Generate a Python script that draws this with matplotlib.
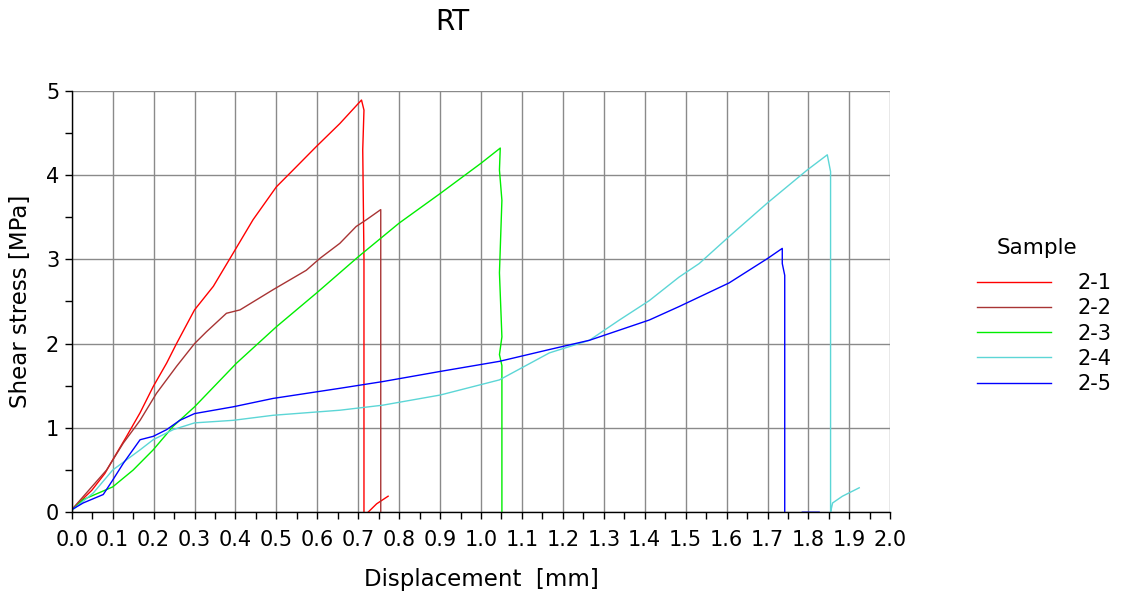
import numpy as np
import matplotlib
matplotlib.use("Agg")
import matplotlib.pyplot as plt

# Образцы и кривые "напряжение сдвига - перемещение"
samples = ["2-1", "2-2", "2-3", "2-4", "2-5"]
colors = ["#ff0000", "#a83434", "#00ee00", "#5cd6d6", "#0000ff"]

x_21 = [0.0, 0.049, 0.081, 0.10, 0.134, 0.167, 0.199, 0.232, 0.256, 0.30, 0.346, 0.394,
        0.443, 0.50, 0.541, 0.598, 0.655, 0.708, 0.714, 0.711, 0.714, 0.714,
        np.nan, 0.724, 0.745, 0.773]
y_21 = [0.03, 0.26, 0.46, 0.62, 0.90, 1.18, 1.49, 1.77, 2.00, 2.40, 2.68, 3.07,
        3.47, 3.86, 4.06, 4.34, 4.61, 4.89, 4.77, 4.30, 3.0, 0.0,
        np.nan, 0.0, 0.10, 0.19]

x_22 = [0.0, 0.028, 0.085, 0.126, 0.167, 0.207, 0.256, 0.30, 0.329, 0.378, 0.411,
        0.492, 0.573, 0.606, 0.655, 0.695, 0.72, 0.755, 0.755]
y_22 = [0.03, 0.185, 0.50, 0.82, 1.09, 1.41, 1.73, 2.00, 2.14, 2.36, 2.40,
        2.64, 2.87, 3.01, 3.19, 3.39, 3.47, 3.59, 0.0]

x_23 = [0.0, 0.028, 0.10, 0.15, 0.199, 0.248, 0.30, 0.403, 0.50, 0.598, 0.70,
        0.80, 0.90, 1.0, 1.047, 1.045, 1.051, 1.045, 1.051, 1.045, 1.051, 1.051]
y_23 = [0.02, 0.15, 0.30, 0.50, 0.74, 1.02, 1.25, 1.77, 2.20, 2.60, 3.03,
        3.43, 3.78, 4.14, 4.32, 4.06, 3.70, 2.84, 2.08, 1.87, 1.74, 0.0]

x_24 = [0.0, 0.053, 0.10, 0.167, 0.199, 0.248, 0.30, 0.394, 0.492, 0.655, 0.76,
        0.90, 1.045, 1.167, 1.265, 1.338, 1.411, 1.484, 1.533, 1.606, 1.70,
        1.797, 1.846, 1.854, 1.854, np.nan, 1.854, 1.859, 1.883, 1.924]
y_24 = [0.02, 0.23, 0.50, 0.74, 0.86, 0.98, 1.06, 1.09, 1.15, 1.21, 1.27,
        1.39, 1.57, 1.89, 2.04, 2.28, 2.51, 2.79, 2.95, 3.27, 3.67,
        4.06, 4.24, 4.04, 0.0, np.nan, 0.0, 0.11, 0.19, 0.29]

x_25 = [0.0, 0.028, 0.077, 0.10, 0.126, 0.167, 0.199, 0.232, 0.264, 0.30, 0.394,
        0.492, 0.655, 0.76, 0.90, 1.045, 1.167, 1.265, 1.411, 1.484, 1.606,
        1.70, 1.736, 1.736, 1.742, 1.742, np.nan, 1.785, 1.826]
y_25 = [0.03, 0.11, 0.21, 0.38, 0.58, 0.86, 0.90, 0.98, 1.09, 1.17, 1.25,
        1.35, 1.47, 1.55, 1.67, 1.79, 1.93, 2.04, 2.28, 2.44, 2.72,
        3.01, 3.13, 2.95, 2.81, 0.0, np.nan, 0.0, 0.0]

curves = [(x_21, y_21), (x_22, y_22), (x_23, y_23), (x_24, y_24), (x_25, y_25)]

x_ticks = np.round(np.arange(0, 2.01, 0.1), 1)
y_ticks = [0, 1, 2, 3, 4, 5]

plt.rcParams["font.family"] = "DejaVu Sans"

fig = plt.figure(figsize=(11.26, 5.97), dpi=100)
ax = fig.add_axes([0.0637, 0.142, 0.727, 0.706])

for (xs, ys), name, c in zip(curves, samples, colors):
    ax.plot(xs, ys, color=c, lw=1.0, label=name)

ax.set_xlim(0, 2.0)
ax.set_ylim(0, 5)
ax.set_xticks(x_ticks)
ax.set_xticklabels([f"{v:.1f}" for v in x_ticks])
ax.set_xticks(np.arange(0.05, 2.0, 0.1), minor=True)
ax.set_yticks(y_ticks)
ax.set_yticks([0.5, 1.5, 2.5, 3.5, 4.5], minor=True)
ax.tick_params(which="both", direction="out", length=5, width=1, colors="black",
               labelsize=15, pad=4)
ax.tick_params(axis="x", pad=8)

ax.grid(True, which="major", color="#8a8a8a", lw=1.0)
ax.set_axisbelow(True)
for s in ["top", "right"]:
    ax.spines[s].set_visible(False)
for s in ["left", "bottom"]:
    ax.spines[s].set_color("black")
    ax.spines[s].set_linewidth(1.0)

ax.set_xlabel("Displacement  [mm]", fontsize=16.5, labelpad=13)
ax.set_ylabel("Shear stress [MPa]", fontsize=16.5, labelpad=10)
fig.text(0.402, 0.963, "RT", fontsize=20, ha="center", va="center")

# легенда: заголовок отдельно, чтобы выдержать отступ как на исходнике
fig.text(0.921, 0.5846, "Sample", fontsize=15.5, ha="center", va="center")
leg = fig.legend(loc="upper left", bbox_to_anchor=(0.8588, 0.560),
                 frameon=False, fontsize=15, borderpad=0,
                 handlelength=3.55, handletextpad=1.25, labelspacing=0.25)

fig.savefig("out.png", dpi=100)
